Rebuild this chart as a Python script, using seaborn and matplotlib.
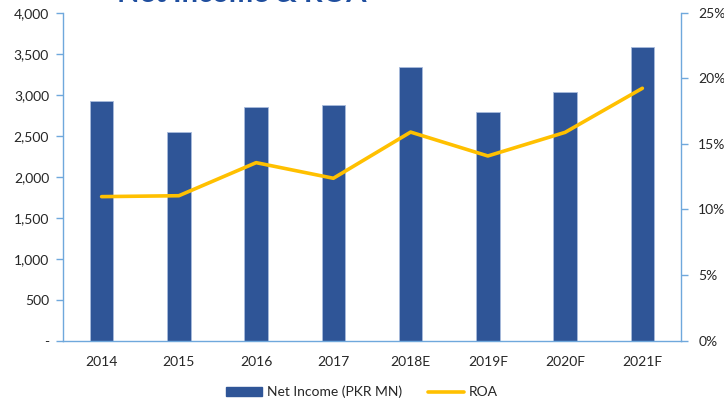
import matplotlib
matplotlib.use("Agg")
import matplotlib.pyplot as plt
import seaborn as sns
import pandas as pd
import numpy as np
from matplotlib.ticker import FuncFormatter, MultipleLocator
from matplotlib.patches import Patch
from matplotlib.lines import Line2D

years = ["2014", "2015", "2016", "2017", "2018E", "2019F", "2020F", "2021F"]
net_income = [2920, 2549, 2846, 2878, 3338, 2789, 3029, 3578]
roa = [10.98, 11.05, 13.57, 12.38, 15.9, 14.08, 15.88, 19.24]

BAR_BLUE = "#2F5597"
LINE_YELLOW = "#FFC000"
AXIS_BLUE = "#6FA8DC"
TEXT = "#262626"

sns.set_style("white")
plt.rcParams["font.family"] = ["Lato", "DejaVu Sans"]

df = pd.DataFrame({"year": years, "net_income": net_income, "roa": roa})

fig = plt.figure(figsize=(7.24, 4.03), dpi=100)
ax = fig.add_axes([0.087, 0.1546, 0.8536, 0.8139])

sns.barplot(data=df, x="year", y="net_income", color=BAR_BLUE, width=0.305,
            saturation=1, edgecolor="#A9BCDD", linewidth=0.6, ax=ax)
ax.set_xlim(-0.5, len(years) - 0.5)
ax.set_ylim(0, 4000)
ax.yaxis.set_major_locator(MultipleLocator(500))
ax.yaxis.set_major_formatter(FuncFormatter(lambda v, p: "-" if v == 0 else f"{int(v):,d}"))
ax.set_xlabel("")
ax.set_ylabel("")

ax2 = ax.twinx()
sns.lineplot(data=df, x="year", y="roa", color=LINE_YELLOW, linewidth=2.6,
             sort=False, ax=ax2, legend=False)
ax2.set_ylim(0, 25)
ax2.yaxis.set_major_locator(MultipleLocator(5))
ax2.yaxis.set_major_formatter(FuncFormatter(lambda v, p: f"{int(v)}%"))
ax2.set_ylabel("")
ax2.set_xlim(-0.5, len(years) - 0.5)

for a in (ax, ax2):
    for side, sp in a.spines.items():
        sp.set_visible(False)
        sp.set_color(AXIS_BLUE)
        sp.set_linewidth(1.0)
ax.spines["left"].set_visible(True)
ax.spines["bottom"].set_visible(True)
ax2.spines["right"].set_visible(True)

fs = 10
ax.tick_params(axis="y", direction="out", length=5, width=1, color=AXIS_BLUE,
               labelsize=fs, labelcolor=TEXT, pad=5, left=True)
ax.tick_params(axis="x", length=0, labelsize=fs, labelcolor=TEXT, pad=11)
ax2.tick_params(axis="y", direction="out", length=5, width=1, color=AXIS_BLUE,
                labelsize=fs, labelcolor=TEXT, pad=7.5, right=True)

# title sits mostly above the canvas, as in the source slide
fig.text(0.334, 1 - 1.5 / 403, "Net Income & ROA", fontsize=21, fontweight="bold",
         color="#1F4E9E", ha="center", va="baseline")

handles = [Patch(facecolor=BAR_BLUE, edgecolor=BAR_BLUE),
           Line2D([0], [0], color=LINE_YELLOW, linewidth=2.6)]
fig.legend(handles, ["Net Income (PKR MN)", "ROA"], loc="center",
           bbox_to_anchor=(0.5, 1 - 392 / 403), ncol=2, frameon=False,
           fontsize=fs, handlelength=2.6, handleheight=0.6, columnspacing=1.8,
           handletextpad=0.4, labelcolor=TEXT)

fig.savefig("out.png", dpi=100)
